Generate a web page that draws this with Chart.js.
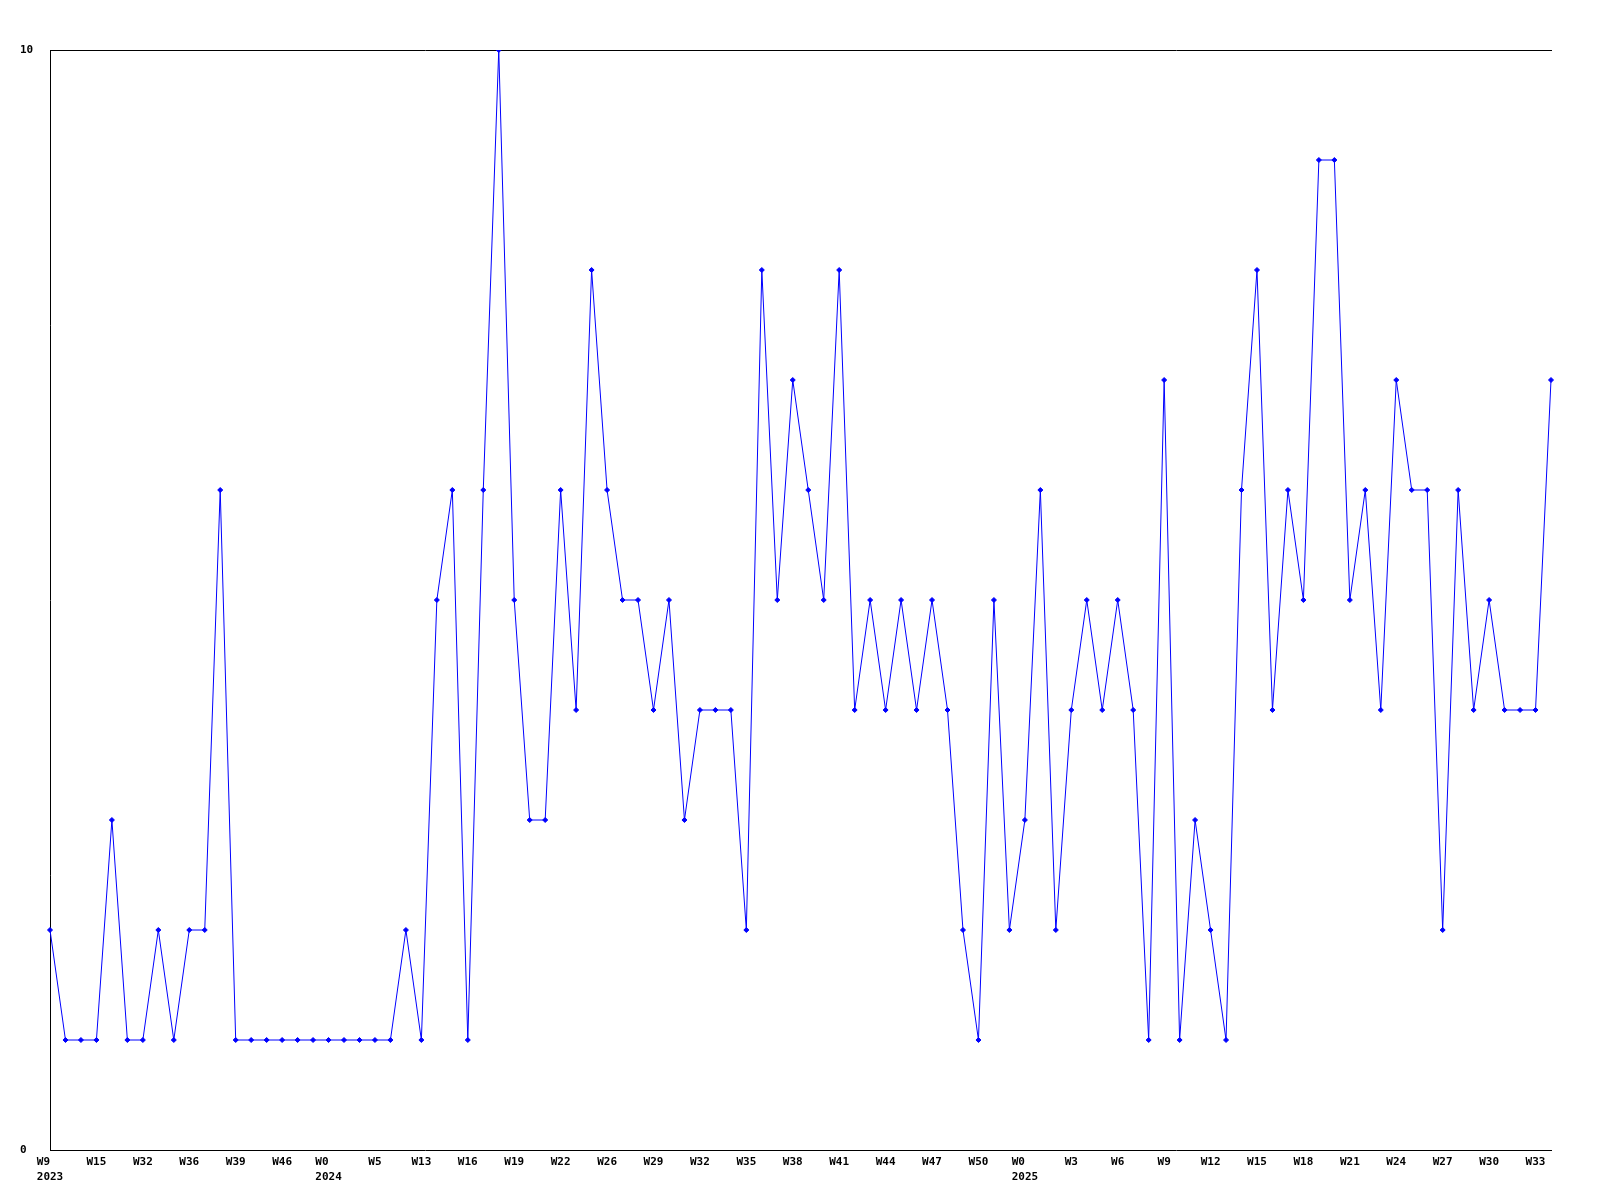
<!DOCTYPE html>
<html>
<head>
<meta charset="utf-8">
<script src="https://cdn.jsdelivr.net/npm/chart.js@4.4.1/dist/chart.umd.min.js"></script>
<style>
  html, body { margin: 0; padding: 0; background: #fff; }
  #wrap { width: 1600px; height: 1200px; }
</style>
</head>
<body>
<div id="wrap"><canvas id="weekly-chart" width="1600" height="1200"></canvas></div>
<script>
// weekly values, one per point
const values = [
	2, 1, 1, 1, 3, 1, 1, 2, 1, 2,
	2, 6, 1, 1, 1, 1, 1, 1, 1, 1,
	1, 1, 1, 2, 1, 5, 6, 1, 6, 10,
	5, 3, 3, 6, 4, 8, 6, 5, 5, 4,
	5, 3, 4, 4, 4, 2, 8, 5, 7, 6,
	5, 8, 4, 5, 4, 5, 4, 5, 4, 2,
	1, 5, 2, 3, 6, 2, 4, 5, 4, 5,
	4, 1, 7, 1, 3, 2, 1, 6, 8, 4,
	6, 5, 9, 9, 5, 6, 4, 7, 6, 6,
	2, 6, 4, 5, 4, 4, 4, 7
];

// labels shown on every third point
const tickLabels = [
	'W9', 'W15', 'W32', 'W36', 'W39', 'W46', 'W0', 'W5', 'W13', 'W16', 'W19',
	'W22', 'W26', 'W29', 'W32', 'W35', 'W38', 'W41', 'W44', 'W47', 'W50',
	'W0', 'W3', 'W6', 'W9', 'W12', 'W15', 'W18', 'W21', 'W24', 'W27', 'W30', 'W33'
];

// year printed under these point indexes
const yearAt = { 0: '2023', 18: '2024', 63: '2025' };

const yTicks = [0, 10];

const categories = values.map((v, i) => i);

const font = { family: "'DejaVu Sans Mono', monospace", size: 11, weight: 'bold', lineHeight: '15px' };

new Chart(document.getElementById('weekly-chart'), {
	type: 'line',
	data: {
		labels: categories,
		datasets: [{
			data: values,
			borderColor: '#0000ff',
			backgroundColor: '#0000ff',
			borderWidth: 1,
			tension: 0,
			pointStyle: 'rectRot',
			pointRadius: 2.5,
			pointBorderWidth: 1
		}]
	},
	options: {
		responsive: false,
		animation: false,
		layout: { padding: { left: 20, right: 49, top: 0, bottom: 0 } },
		plugins: { legend: { display: false }, tooltip: { enabled: false } },
		scales: {
			x: {
				type: 'category',
				position: 'bottom',
				grid: { display: false, drawTicks: false },
				border: { display: true, color: '#000', width: 1 },
				ticks: {
					autoSkip: false,
					maxRotation: 0,
					minRotation: 0,
					padding: 5,
					color: '#000',
					font: font,
					callback: function(val, i) {
						if (i % 3 !== 0) return '';
						const w = tickLabels[i / 3];
						// week text starts where the year starts (monospace font)
						return yearAt[i] ? [w.padEnd(yearAt[i].length, ' '), yearAt[i]] : w;
					}
				},
				afterFit: function(scale) { scale.height = 50; }
			},
			xTop: {
				type: 'category',
				position: 'top',
				grid: { display: false, drawTicks: false },
				border: { display: true, color: '#000', width: 1 },
				ticks: { display: false },
				afterFit: function(scale) { scale.height = 50; }
			},
			y: {
				min: yTicks[0],
				max: yTicks[1],
				grid: { display: false, drawTicks: false },
				border: { display: true, color: '#000', width: 1 },
				afterBuildTicks: function(scale) {
					scale.ticks = yTicks.map(v => ({ value: v }));
				},
				ticks: {
					crossAlign: 'far',
					color: '#000',
					font: font
				},
				afterFit: function(scale) { scale.width = 30; }
			}
		}
	}
});
</script>
</body>
</html>
